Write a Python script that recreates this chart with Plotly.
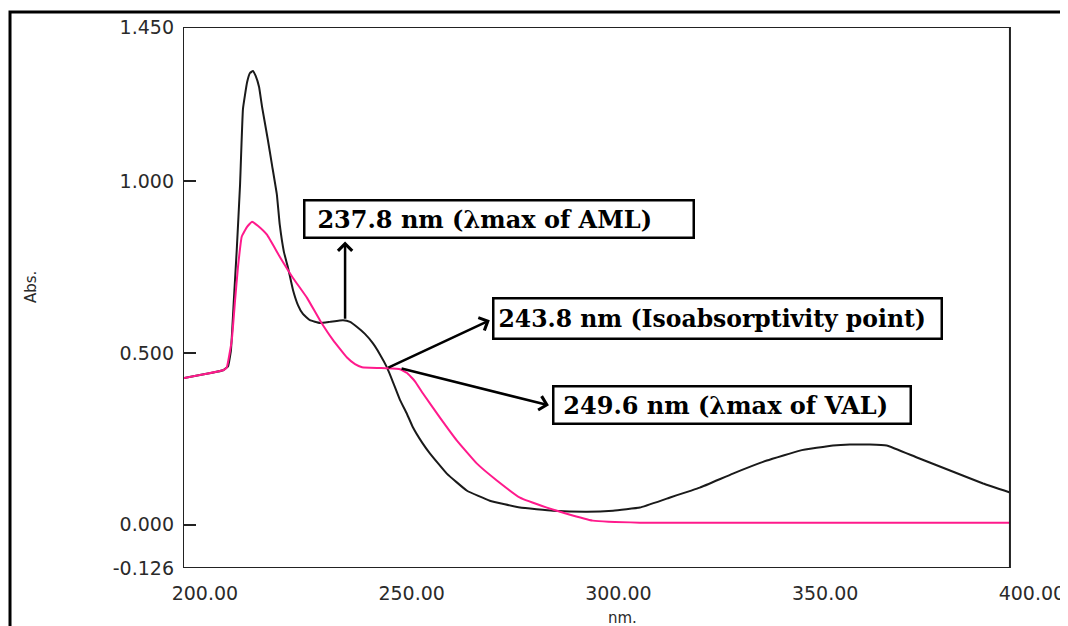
import plotly.graph_objects as go

# Wavelength (nm) and absorbance
aml_nm = [194.7, 204.4, 205.6, 206.3, 207.0, 207.7, 208.5, 209.2, 210.2, 210.9, 211.6,
          212.3, 213.1, 213.8, 215.2, 216.2, 217.4, 218.1, 219.1, 220.1, 221.3, 222.5,
          223.7, 225.4, 227.8, 230.2, 233.4, 235.1, 236.8, 238.7, 240.6, 242.3, 244.0,
          245.5, 247.2, 248.9, 250.3, 252.5, 254.4, 258.5, 263.4, 268.9, 276.2, 284.2,
          292.4, 298.7, 305.2, 311.7, 319.7, 327.7, 335.9, 343.9, 351.9, 356.0, 360.8,
          364.9, 372.2, 380.2, 388.2, 394.7]
aml_abs = [0.427, 0.450, 0.462, 0.509, 0.655, 0.801, 0.991, 1.211, 1.289, 1.316, 1.322,
           1.307, 1.275, 1.219, 1.123, 1.050, 0.962, 0.874, 0.795, 0.749, 0.684, 0.640,
           0.614, 0.596, 0.588, 0.591, 0.596, 0.591, 0.576, 0.556, 0.529, 0.497, 0.459,
           0.415, 0.363, 0.322, 0.284, 0.240, 0.208, 0.149, 0.099, 0.070, 0.050, 0.041,
           0.038, 0.041, 0.050, 0.076, 0.108, 0.149, 0.187, 0.216, 0.231, 0.234, 0.234,
           0.231, 0.196, 0.158, 0.120, 0.094]

val_nm = [194.7, 204.4, 205.3, 206.5, 207.3, 208.0, 208.9, 210.2, 211.4, 212.8, 215.0,
          218.1, 221.3, 224.7, 227.8, 231.0, 234.3, 236.3, 238.0, 244.0, 247.2, 248.9,
          250.8, 252.7, 256.8, 260.9, 265.8, 270.6, 276.2, 282.7, 287.5, 293.8, 305.2,
          394.7]
val_abs = [0.427, 0.450, 0.459, 0.538, 0.655, 0.751, 0.839, 0.868, 0.883, 0.871, 0.845,
           0.781, 0.719, 0.661, 0.596, 0.538, 0.488, 0.468, 0.459, 0.456, 0.453, 0.442,
           0.418, 0.383, 0.313, 0.246, 0.178, 0.129, 0.079, 0.050, 0.032, 0.012, 0.006,
           0.006]

x_ticks = [200, 250, 300, 350, 400]
x_ticktext = ["200.00", "250.00", "300.00", "350.00", "400.00"]
x_marks = [250, 300, 350]
y_ticks = [-0.126, 0.0, 0.5, 1.0, 1.45]
y_ticktext = ["-0.126", "0.000", "0.500", "1.000", "1.450"]

x_lo, x_hi = 194.7, 394.7
y_lo, y_hi = -0.126, 1.45

fig = go.Figure()
fig.add_trace(go.Scatter(x=aml_nm, y=aml_abs, mode="lines", name="AML",
                         line=dict(color="#1a1a1a", width=2, shape="spline", smoothing=0.3)))
fig.add_trace(go.Scatter(x=val_nm, y=val_abs, mode="lines", name="VAL",
                         line=dict(color="#ff1a8c", width=2, shape="spline", smoothing=0.3)))

tick_font = dict(family="DejaVu Sans", size=19, color="#2a2a2a")

fig.update_layout(
    width=1060, height=618,
    margin=dict(l=175, r=32, t=19, b=58),
    paper_bgcolor="white", plot_bgcolor="white",
    showlegend=False,
    xaxis=dict(range=[x_lo, 401], tickmode="array", tickvals=x_ticks, ticktext=x_ticktext,
               ticks="", showgrid=False, zeroline=False, showline=False, automargin=False,
               tickfont=tick_font, ticklabelstandoff=12),
    xaxis2=dict(overlaying="x", matches="x", anchor="y", side="bottom", automargin=False,
                tickmode="array", tickvals=x_marks, ticks="inside", ticklen=6,
                tickwidth=2, tickcolor="#222", showticklabels=False,
                showgrid=False, zeroline=False, showline=False),
    yaxis=dict(range=[y_lo, y_hi], tickmode="array", tickvals=y_ticks, ticktext=y_ticktext,
               ticks="inside", ticklen=13, tickwidth=2, tickcolor="#222", automargin=False,
               ticklabelstandoff=8,
               showgrid=False, zeroline=False, showline=False, tickfont=tick_font),
)

# plot frame and outer figure border
fig.add_shape(type="rect", xref="x", yref="y", x0=x_lo, x1=x_hi, y0=y_lo, y1=y_hi,
              line=dict(color="#222", width=2))
fig.add_shape(type="rect", xref="paper", yref="paper", x0=-0.2028, x1=1.2, y0=-0.3, y1=1.0277,
              line=dict(color="black", width=3))

fig.add_annotation(text="Abs.", xref="paper", yref="paper", x=-0.179, y=0.52,
                   xanchor="center", yanchor="middle",
                   textangle=-90, showarrow=False,
                   font=dict(family="DejaVu Sans", size=15, color="#2a2a2a"))
fig.add_annotation(text="nm.", xref="paper", yref="paper", x=0.515, y=-0.093,
                   xanchor="center", yanchor="middle", showarrow=False,
                   font=dict(family="DejaVu Sans", size=15, color="#2a2a2a"))

boxes = [
    ("\u2004237.8 nm (\u03bbmax of AML)", 271.1, 0.892, 379, 27, 24),
    ("243.8 nm (Isoabsorptivity point)", 323.9, 0.601, 438, 30, 23.5),
    ("\u2009249.6 nm (\u03bbmax of VAL)", 327.4, 0.348, 347, 27, 24),
]
for txt, bx, by, w, h, fs in boxes:
    fig.add_annotation(text=txt, x=bx, y=by, xref="x", yref="y", showarrow=False,
                       width=w, height=h, align="left",
                       font=dict(family="DejaVu Serif", size=fs, color="black", weight="bold"),
                       bordercolor="black", borderwidth=2.5, borderpad=4, bgcolor="white")

arrows = [
    (233.9, 0.596, 233.9, 0.825),
    (244.0, 0.456, 268.9, 0.596),
    (247.2, 0.456, 283.2, 0.348),
]
for tx, ty, hx, hy in arrows:
    fig.add_annotation(text="", x=hx, y=hy, ax=tx, ay=ty, xref="x", yref="y",
                       axref="x", ayref="y", showarrow=True, arrowhead=4,
                       arrowsize=1.1, arrowwidth=2.5, arrowcolor="black", standoff=0)

fig.write_html("out.html")
